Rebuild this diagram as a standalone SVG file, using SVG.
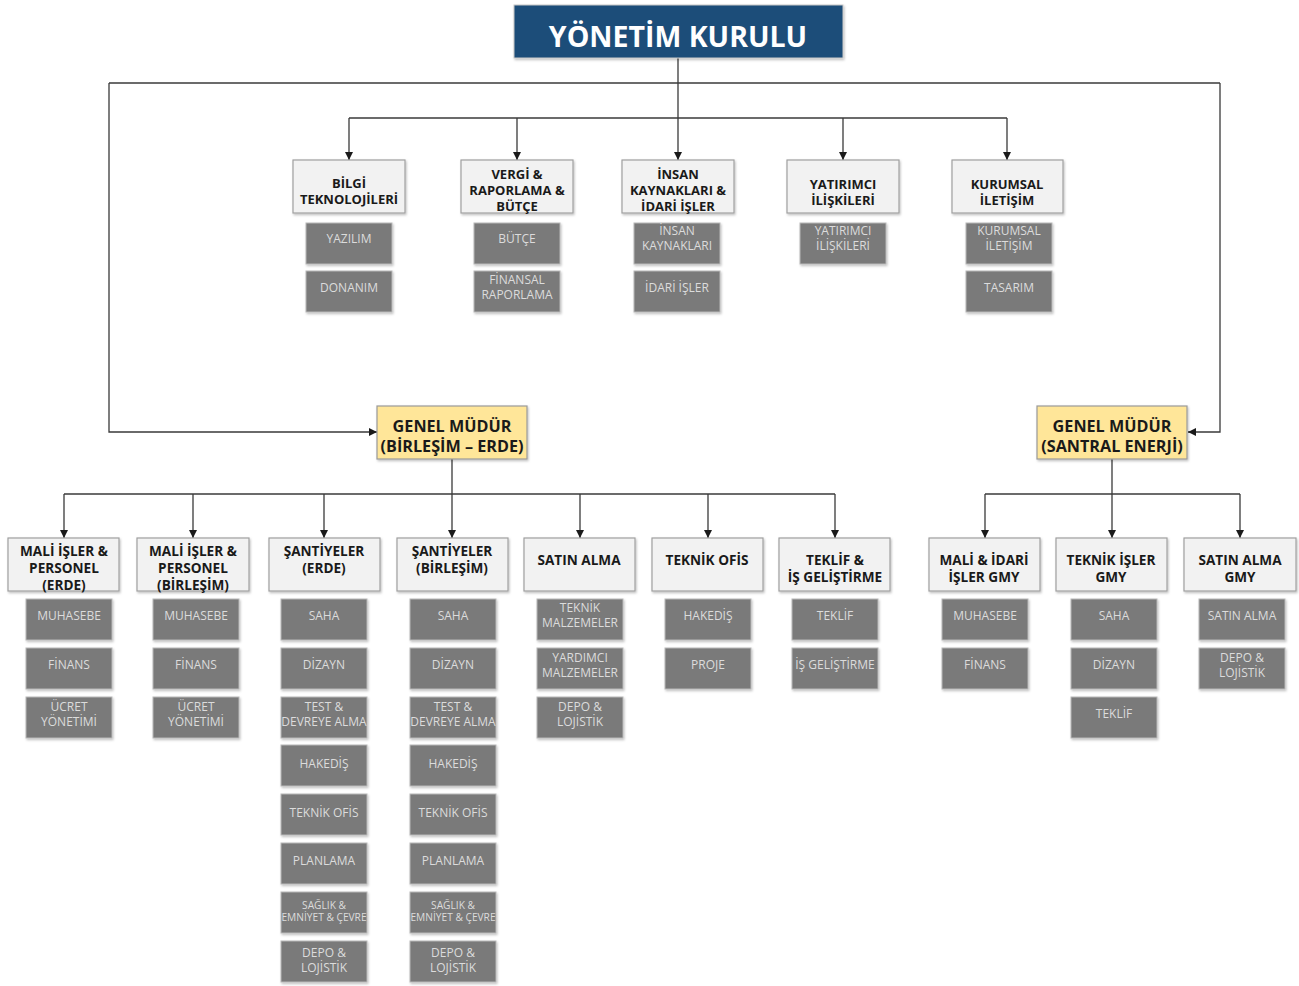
<svg xmlns="http://www.w3.org/2000/svg" width="1299" height="986" viewBox="0 0 1299 986">
<defs>
<style>
text{font-family:"Open Sans","Liberation Sans",sans-serif;text-anchor:middle}
.top{fill:#1f4e79;stroke:#c8c8c8;stroke-width:1}
.gm{fill:#ffe699;stroke:#9a9a9a;stroke-width:1.2}
.dept{fill:#f2f2f2;stroke:#a0a0a0;stroke-width:1.2}
.sub{fill:#7a7a7a;stroke:#b8b8b8;stroke-width:1}
.tt{fill:#ffffff;font-weight:bold;font-size:28.5px}
.tg{fill:#1a1a1a;font-weight:bold;font-size:16.2px}
.td{fill:#1a1a1a;font-weight:bold;font-size:13px}
.tl{fill:#1a1a1a;font-weight:bold;font-size:13.6px}
.ts{fill:#dcdcdc;font-size:12px}
.tx{fill:#dcdcdc;font-size:10.2px}
.ln{fill:none;stroke:#3a3a3a;stroke-width:1.3}
</style>
<marker id="ar" viewBox="0 0 8 8" refX="8" refY="4" markerWidth="8" markerHeight="8" markerUnits="userSpaceOnUse" orient="auto">
<path d="M0,0 L8,4 L0,8 Z" fill="#1a1a1a"/>
</marker>
<filter id="sh" x="-10%" y="-10%" width="130%" height="140%">
<feDropShadow dx="1" dy="1.5" stdDeviation="1" flood-color="#000" flood-opacity="0.25"/>
</filter>
</defs>
<rect width="1299" height="986" fill="#ffffff"/>

<g id="connectors">
<path class="ln" d="M109,83 H1220"/>
<path class="ln" d="M678,58 V118"/>
<path class="ln" d="M349,118 H1007"/>
<path class="ln" d="M349,118 V160" marker-end="url(#ar)"/>
<path class="ln" d="M517,118 V160" marker-end="url(#ar)"/>
<path class="ln" d="M678,118 V160" marker-end="url(#ar)"/>
<path class="ln" d="M843,118 V160" marker-end="url(#ar)"/>
<path class="ln" d="M1007,118 V160" marker-end="url(#ar)"/>
<path class="ln" d="M109,83 V432 H377" marker-end="url(#ar)"/>
<path class="ln" d="M1220,83 V432 H1188" marker-end="url(#ar)"/>
<path class="ln" d="M452,459 V494"/>
<path class="ln" d="M64,494 H835"/>
<path class="ln" d="M64,494 V538" marker-end="url(#ar)"/>
<path class="ln" d="M193,494 V538" marker-end="url(#ar)"/>
<path class="ln" d="M324,494 V538" marker-end="url(#ar)"/>
<path class="ln" d="M452,494 V538" marker-end="url(#ar)"/>
<path class="ln" d="M580,494 V538" marker-end="url(#ar)"/>
<path class="ln" d="M708,494 V538" marker-end="url(#ar)"/>
<path class="ln" d="M835,494 V538" marker-end="url(#ar)"/>
<path class="ln" d="M1112,459 V494"/>
<path class="ln" d="M985,494 H1240"/>
<path class="ln" d="M985,494 V538" marker-end="url(#ar)"/>
<path class="ln" d="M1112,494 V538" marker-end="url(#ar)"/>
<path class="ln" d="M1240,494 V538" marker-end="url(#ar)"/>
</g>

<g id="yonetim-kurulu"><rect class="top" x="514" y="5" width="329" height="53" filter="url(#sh)"/><text class="tt" x="678" y="47">YÖNETİM KURULU</text></g>

<g id="bilgi-teknolojileri"><rect class="dept" x="293" y="160" width="112" height="53" filter="url(#sh)"/><text class="td" x="349" y="188">BİLGİ</text><text class="td" x="349" y="204">TEKNOLOJİLERİ</text></g>
<g id="vergi"><rect class="dept" x="461" y="160" width="112" height="53" filter="url(#sh)"/><text class="td" x="517" y="179">VERGİ &amp;</text><text class="td" x="517" y="195">RAPORLAMA &amp;</text><text class="td" x="517" y="211">BÜTÇE</text></g>
<g id="insan-kaynaklari"><rect class="dept" x="622" y="160" width="112" height="53" filter="url(#sh)"/><text class="td" x="678" y="179">İNSAN</text><text class="td" x="678" y="195">KAYNAKLARI &amp;</text><text class="td" x="678" y="211">İDARİ İŞLER</text></g>
<g id="yatirimci-iliskileri"><rect class="dept" x="787" y="160" width="112" height="53" filter="url(#sh)"/><text class="td" x="843" y="189">YATIRIMCI</text><text class="td" x="843" y="205">İLİŞKİLERİ</text></g>
<g id="kurumsal-iletisim"><rect class="dept" x="952" y="160" width="111" height="53" filter="url(#sh)"/><text class="td" x="1007" y="189">KURUMSAL</text><text class="td" x="1007" y="205">İLETİŞİM</text></g>

<g id="sub-yazilim"><rect class="sub" x="306" y="223" width="86" height="41" filter="url(#sh)"/><text class="ts" x="349" y="243">YAZILIM</text></g>
<g id="sub-donanim"><rect class="sub" x="306" y="271" width="86" height="41" filter="url(#sh)"/><text class="ts" x="349" y="292">DONANIM</text></g>
<g id="sub-butce"><rect class="sub" x="474" y="223" width="86" height="41" filter="url(#sh)"/><text class="ts" x="517" y="243">BÜTÇE</text></g>
<g id="sub-finansal-raporlama"><rect class="sub" x="474" y="271" width="86" height="41" filter="url(#sh)"/><text class="ts" x="517" y="284">FİNANSAL</text><text class="ts" x="517" y="299">RAPORLAMA</text></g>
<g id="sub-insan-kaynaklari"><rect class="sub" x="634" y="223" width="86" height="41" filter="url(#sh)"/><text class="ts" x="677" y="235">İNSAN</text><text class="ts" x="677" y="250">KAYNAKLARI</text></g>
<g id="sub-idari-isler"><rect class="sub" x="634" y="271" width="86" height="41" filter="url(#sh)"/><text class="ts" x="677" y="292">İDARİ İŞLER</text></g>
<g id="sub-yatirimci"><rect class="sub" x="800" y="223" width="86" height="41" filter="url(#sh)"/><text class="ts" x="843" y="235">YATIRIMCI</text><text class="ts" x="843" y="250">İLİŞKİLERİ</text></g>
<g id="sub-kurumsal"><rect class="sub" x="966" y="223" width="86" height="41" filter="url(#sh)"/><text class="ts" x="1009" y="235">KURUMSAL</text><text class="ts" x="1009" y="250">İLETİŞİM</text></g>
<g id="sub-tasarim"><rect class="sub" x="966" y="271" width="86" height="41" filter="url(#sh)"/><text class="ts" x="1009" y="292">TASARIM</text></g>

<g id="gm-birlesim-erde"><rect class="gm" x="377" y="406" width="150" height="53" filter="url(#sh)"/><text class="tg" x="452" y="432">GENEL MÜDÜR</text><text class="tg" x="452" y="452">(BİRLEŞİM – ERDE)</text></g>
<g id="gm-santral-enerji"><rect class="gm" x="1037" y="406" width="150" height="53" filter="url(#sh)"/><text class="tg" x="1112" y="432">GENEL MÜDÜR</text><text class="tg" x="1112" y="452">(SANTRAL ENERJİ)</text></g>

<g id="mali-erde"><rect class="dept" x="8" y="538" width="111" height="53" filter="url(#sh)"/><text class="tl" x="64" y="556">MALİ İŞLER &amp;</text><text class="tl" x="64" y="573">PERSONEL</text><text class="tl" x="64" y="590">(ERDE)</text></g>
<g id="mali-birlesim"><rect class="dept" x="137" y="538" width="112" height="53" filter="url(#sh)"/><text class="tl" x="193" y="556">MALİ İŞLER &amp;</text><text class="tl" x="193" y="573">PERSONEL</text><text class="tl" x="193" y="590">(BİRLEŞİM)</text></g>
<g id="santiyeler-erde"><rect class="dept" x="269" y="538" width="111" height="53" filter="url(#sh)"/><text class="tl" x="324" y="556">ŞANTİYELER</text><text class="tl" x="324" y="573">(ERDE)</text></g>
<g id="santiyeler-birlesim"><rect class="dept" x="397" y="538" width="111" height="53" filter="url(#sh)"/><text class="tl" x="452" y="556">ŞANTİYELER</text><text class="tl" x="452" y="573">(BİRLEŞİM)</text></g>
<g id="satin-alma"><rect class="dept" x="524" y="538" width="111" height="53" filter="url(#sh)"/><text class="tl" x="579" y="565">SATIN ALMA</text></g>
<g id="teknik-ofis"><rect class="dept" x="652" y="538" width="111" height="53" filter="url(#sh)"/><text class="tl" x="707" y="565">TEKNİK OFİS</text></g>
<g id="teklif-is-gelistirme"><rect class="dept" x="779" y="538" width="111" height="53" filter="url(#sh)"/><text class="tl" x="835" y="565">TEKLİF &amp;</text><text class="tl" x="835" y="582">İŞ GELİŞTİRME</text></g>
<g id="mali-idari-gmy"><rect class="dept" x="929" y="538" width="111" height="53" filter="url(#sh)"/><text class="tl" x="984" y="565">MALİ &amp; İDARİ</text><text class="tl" x="984" y="582">İŞLER GMY</text></g>
<g id="teknik-isler-gmy"><rect class="dept" x="1056" y="538" width="111" height="53" filter="url(#sh)"/><text class="tl" x="1111" y="565">TEKNİK İŞLER</text><text class="tl" x="1111" y="582">GMY</text></g>
<g id="satin-alma-gmy"><rect class="dept" x="1184" y="538" width="112" height="53" filter="url(#sh)"/><text class="tl" x="1240" y="565">SATIN ALMA</text><text class="tl" x="1240" y="582">GMY</text></g>

<g id="s-me-1"><rect class="sub" x="26" y="599" width="86" height="41" filter="url(#sh)"/><text class="ts" x="69" y="620">MUHASEBE</text></g>
<g id="s-me-2"><rect class="sub" x="26" y="648" width="86" height="41" filter="url(#sh)"/><text class="ts" x="69" y="669">FİNANS</text></g>
<g id="s-me-3"><rect class="sub" x="26" y="697" width="86" height="41" filter="url(#sh)"/><text class="ts" x="69" y="711">ÜCRET</text><text class="ts" x="69" y="726">YÖNETİMİ</text></g>

<g id="s-mb-1"><rect class="sub" x="153" y="599" width="86" height="41" filter="url(#sh)"/><text class="ts" x="196" y="620">MUHASEBE</text></g>
<g id="s-mb-2"><rect class="sub" x="153" y="648" width="86" height="41" filter="url(#sh)"/><text class="ts" x="196" y="669">FİNANS</text></g>
<g id="s-mb-3"><rect class="sub" x="153" y="697" width="86" height="41" filter="url(#sh)"/><text class="ts" x="196" y="711">ÜCRET</text><text class="ts" x="196" y="726">YÖNETİMİ</text></g>

<g id="s-se-1"><rect class="sub" x="281" y="599" width="86" height="41" filter="url(#sh)"/><text class="ts" x="324" y="620">SAHA</text></g>
<g id="s-se-2"><rect class="sub" x="281" y="648" width="86" height="41" filter="url(#sh)"/><text class="ts" x="324" y="669">DİZAYN</text></g>
<g id="s-se-3"><rect class="sub" x="281" y="697" width="86" height="41" filter="url(#sh)"/><text class="ts" x="324" y="711">TEST &amp;</text><text class="ts" x="324" y="726">DEVREYE ALMA</text></g>
<g id="s-se-4"><rect class="sub" x="281" y="745" width="86" height="41" filter="url(#sh)"/><text class="ts" x="324" y="768">HAKEDİŞ</text></g>
<g id="s-se-5"><rect class="sub" x="281" y="794" width="86" height="41" filter="url(#sh)"/><text class="ts" x="324" y="817">TEKNİK OFİS</text></g>
<g id="s-se-6"><rect class="sub" x="281" y="843" width="86" height="41" filter="url(#sh)"/><text class="ts" x="324" y="865">PLANLAMA</text></g>
<g id="s-se-7"><rect class="sub" x="281" y="892" width="86" height="41" filter="url(#sh)"/><text class="tx" x="324" y="909">SAĞLIK &amp;</text><text class="tx" x="324" y="921">EMNİYET &amp; ÇEVRE</text></g>
<g id="s-se-8"><rect class="sub" x="281" y="941" width="86" height="41" filter="url(#sh)"/><text class="ts" x="324" y="957">DEPO &amp;</text><text class="ts" x="324" y="972">LOJİSTİK</text></g>

<g id="s-sb-1"><rect class="sub" x="410" y="599" width="86" height="41" filter="url(#sh)"/><text class="ts" x="453" y="620">SAHA</text></g>
<g id="s-sb-2"><rect class="sub" x="410" y="648" width="86" height="41" filter="url(#sh)"/><text class="ts" x="453" y="669">DİZAYN</text></g>
<g id="s-sb-3"><rect class="sub" x="410" y="697" width="86" height="41" filter="url(#sh)"/><text class="ts" x="453" y="711">TEST &amp;</text><text class="ts" x="453" y="726">DEVREYE ALMA</text></g>
<g id="s-sb-4"><rect class="sub" x="410" y="745" width="86" height="41" filter="url(#sh)"/><text class="ts" x="453" y="768">HAKEDİŞ</text></g>
<g id="s-sb-5"><rect class="sub" x="410" y="794" width="86" height="41" filter="url(#sh)"/><text class="ts" x="453" y="817">TEKNİK OFİS</text></g>
<g id="s-sb-6"><rect class="sub" x="410" y="843" width="86" height="41" filter="url(#sh)"/><text class="ts" x="453" y="865">PLANLAMA</text></g>
<g id="s-sb-7"><rect class="sub" x="410" y="892" width="86" height="41" filter="url(#sh)"/><text class="tx" x="453" y="909">SAĞLIK &amp;</text><text class="tx" x="453" y="921">EMNİYET &amp; ÇEVRE</text></g>
<g id="s-sb-8"><rect class="sub" x="410" y="941" width="86" height="41" filter="url(#sh)"/><text class="ts" x="453" y="957">DEPO &amp;</text><text class="ts" x="453" y="972">LOJİSTİK</text></g>

<g id="s-sa-1"><rect class="sub" x="537" y="599" width="86" height="41" filter="url(#sh)"/><text class="ts" x="580" y="612">TEKNİK</text><text class="ts" x="580" y="627">MALZEMELER</text></g>
<g id="s-sa-2"><rect class="sub" x="537" y="648" width="86" height="41" filter="url(#sh)"/><text class="ts" x="580" y="662">YARDIMCI</text><text class="ts" x="580" y="677">MALZEMELER</text></g>
<g id="s-sa-3"><rect class="sub" x="537" y="697" width="86" height="41" filter="url(#sh)"/><text class="ts" x="580" y="711">DEPO &amp;</text><text class="ts" x="580" y="726">LOJİSTİK</text></g>

<g id="s-to-1"><rect class="sub" x="665" y="599" width="86" height="41" filter="url(#sh)"/><text class="ts" x="708" y="620">HAKEDİŞ</text></g>
<g id="s-to-2"><rect class="sub" x="665" y="648" width="86" height="41" filter="url(#sh)"/><text class="ts" x="708" y="669">PROJE</text></g>

<g id="s-tk-1"><rect class="sub" x="792" y="599" width="86" height="41" filter="url(#sh)"/><text class="ts" x="835" y="620">TEKLİF</text></g>
<g id="s-tk-2"><rect class="sub" x="792" y="648" width="86" height="41" filter="url(#sh)"/><text class="ts" x="835" y="669">İŞ GELİŞTİRME</text></g>

<g id="s-mi-1"><rect class="sub" x="942" y="599" width="86" height="41" filter="url(#sh)"/><text class="ts" x="985" y="620">MUHASEBE</text></g>
<g id="s-mi-2"><rect class="sub" x="942" y="648" width="86" height="41" filter="url(#sh)"/><text class="ts" x="985" y="669">FİNANS</text></g>

<g id="s-ti-1"><rect class="sub" x="1071" y="599" width="86" height="41" filter="url(#sh)"/><text class="ts" x="1114" y="620">SAHA</text></g>
<g id="s-ti-2"><rect class="sub" x="1071" y="648" width="86" height="41" filter="url(#sh)"/><text class="ts" x="1114" y="669">DİZAYN</text></g>
<g id="s-ti-3"><rect class="sub" x="1071" y="697" width="86" height="41" filter="url(#sh)"/><text class="ts" x="1114" y="718">TEKLİF</text></g>

<g id="s-sg-1"><rect class="sub" x="1199" y="599" width="86" height="41" filter="url(#sh)"/><text class="ts" x="1242" y="620">SATIN ALMA</text></g>
<g id="s-sg-2"><rect class="sub" x="1199" y="648" width="86" height="41" filter="url(#sh)"/><text class="ts" x="1242" y="662">DEPO &amp;</text><text class="ts" x="1242" y="677">LOJİSTİK</text></g>
</svg>
